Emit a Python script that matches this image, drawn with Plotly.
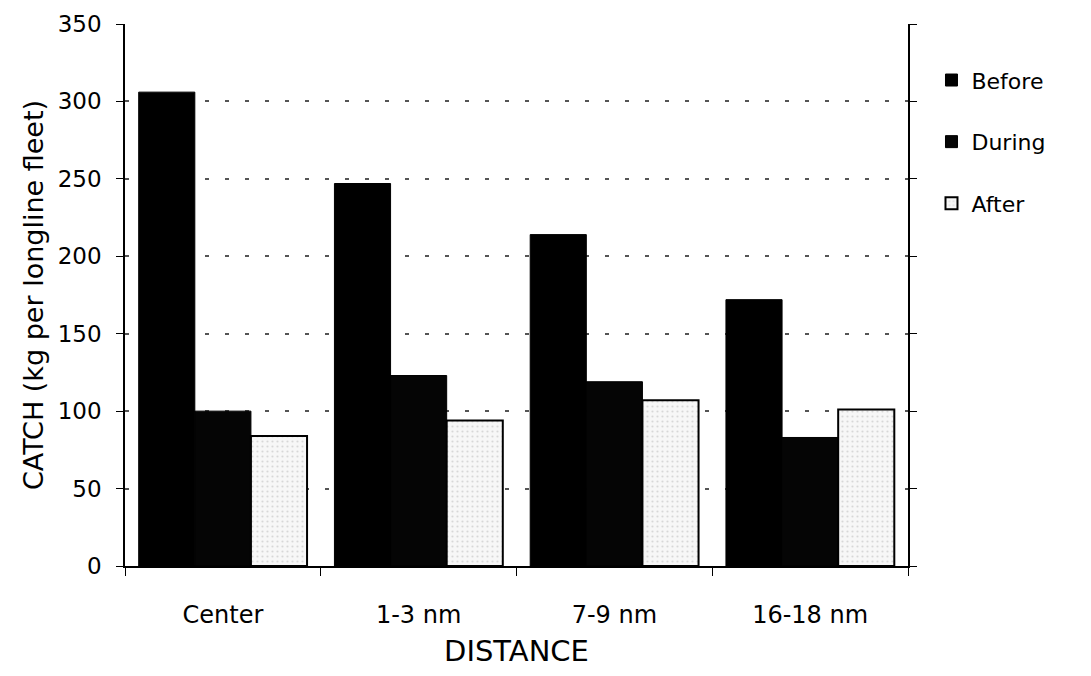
import plotly.graph_objects as go

categories = ["Center", "1-3 nm", "7-9 nm", "16-18 nm"]
before = [306, 247, 214, 172]
during = [100, 123, 119, 83]
after = [84, 94, 107, 101]
y_ticks = [0, 50, 100, 150, 200, 250, 300, 350]

FONT = "'DejaVu Sans', sans-serif"

fig = go.Figure()
fig.add_trace(go.Bar(name="Before", x=categories, y=before, legendgroup="a",
                     marker=dict(color="#000000", line=dict(color="#000000", width=1))))
fig.add_trace(go.Bar(name="During", x=categories, y=during, legendgroup="b",
                     marker=dict(color="#050505", line=dict(color="#000000", width=1))))
fig.add_trace(go.Bar(name="After", x=categories, y=after, legendgroup="c",
                     marker=dict(color="#f4f4f4", line=dict(color="#000000", width=2),
                                 pattern=dict(shape=".", fgcolor="#b8b8b8", bgcolor="#f7f7f7",
                                              size=5, solidity=0.15))))

fig.update_layout(
    width=1075, height=660,
    margin=dict(l=117, r=175, t=16, b=102),
    paper_bgcolor="white", plot_bgcolor="white",
    barmode="group", bargap=0.14, bargroupgap=0,
    font=dict(family=FONT, color="#000000"),
    legend=dict(x=1.03, y=0.935, xanchor="left", yanchor="top",
                font=dict(size=22, family=FONT), tracegroupgap=30,
                itemwidth=30),
    xaxis=dict(
        title=dict(text="DISTANCE", font=dict(size=29), standoff=20),
        tickfont=dict(size=24), ticklabelstandoff=26,
        showline=True, linecolor="#000000", linewidth=1.5,
        ticks="outside", ticklen=8, tickcolor="#000000",
        tickson="boundaries", showgrid=False, mirror=False,
        automargin=False,
    ),
    yaxis=dict(
        title=dict(text="CATCH (kg per longline fleet)", font=dict(size=27), standoff=6),
        range=[0, 350], tickvals=y_ticks, tickfont=dict(size=23),
        ticklabeloverflow="allow", ticklabelstandoff=10,
        showline=True, linecolor="#000000", linewidth=1.5, mirror="ticks",
        ticks="outside", ticklen=7, tickcolor="#000000",
        showgrid=True, gridcolor="#555555", griddash="4px,16px", gridwidth=1.5,
        zeroline=False, automargin=False,
    ),
)

fig.write_html("out.html")
